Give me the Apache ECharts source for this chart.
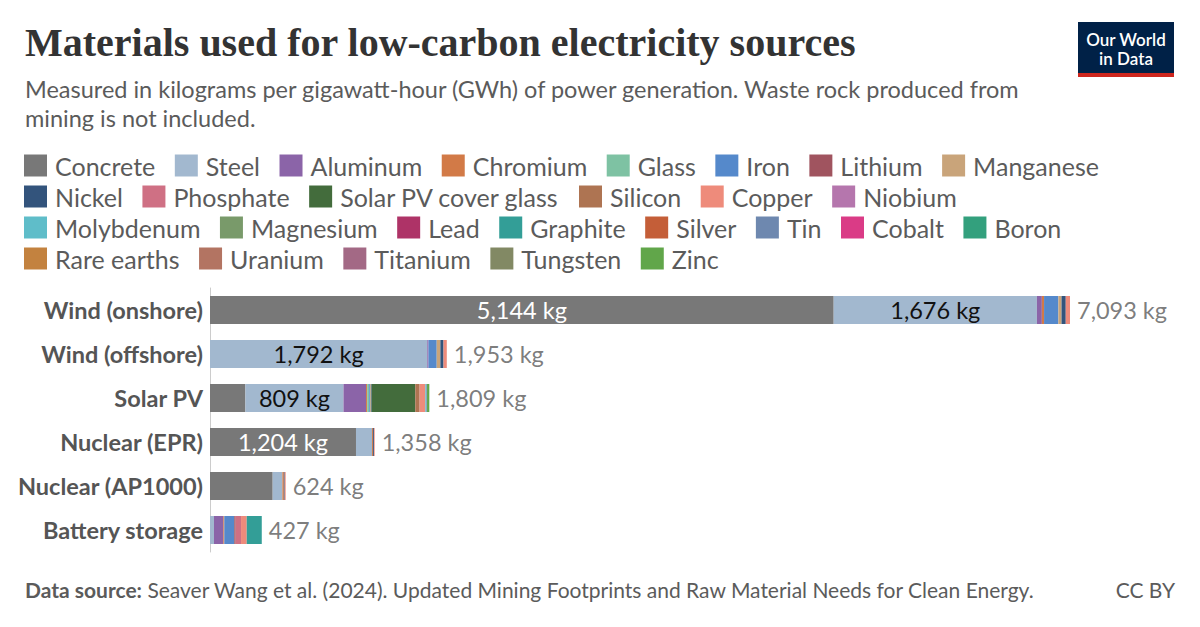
<!DOCTYPE html>
<html>
<head>
<meta charset="utf-8">
<script src="https://cdn.jsdelivr.net/npm/echarts@6/dist/echarts.min.js"></script>
<style>
html,body{margin:0;padding:0;background:#fff;}
#chart{width:1200px;height:627px;}
</style>
</head>
<body>
<div id="chart"></div>
<script>
// ---------- DATA ----------
const categories = ["Wind (onshore)", "Wind (offshore)", "Solar PV", "Nuclear (EPR)", "Nuclear (AP1000)", "Battery storage"];

const materials = ["Concrete","Steel","Aluminum","Chromium","Glass","Iron","Lithium","Manganese",
  "Nickel","Phosphate","Solar PV cover glass","Silicon","Copper","Niobium",
  "Molybdenum","Magnesium","Lead","Graphite","Silver","Tin","Cobalt","Boron",
  "Rare earths","Uranium","Titanium","Tungsten","Zinc"];

// kg per GWh, in category order
const concrete    = [5144,    0,  292, 1204, 517,   0];
const steel       = [1676, 1792,  809,  132,  80,  33];
const aluminum    = [  41,   10,  186,    0,   0,  77];
const chromium    = [  18,    0,   10,    8,  12,   8];
const glass       = [   0,    0,   16,    0,   0,   0];
const iron        = [ 118,   68,    8,    0,   0,  82];
const lithium     = [   0,    0,    0,    0,   0,  12];
const manganese   = [  26,   30,    6,    0,   0,   0];
const nickel      = [  35,   26,    6,    8,   7,   0];
const phosphate   = [   0,    0,    0,    0,   0,  44];
const coverGlass  = [   0,    0,  360,    0,   0,   0];
const silicon     = [   0,    0,   36,    0,   0,   0];
const copper      = [  35,   27,   47,    6,   8,  47];
const niobium     = [   0,    0,    0,    0,   0,   0];
const molybdenum  = [   0,    0,    8,    0,   0,   0];
const magnesium   = [   0,    0,    0,    0,   0,   0];
const lead        = [   0,    0,    0,    0,   0,   0];
const graphite    = [   0,    0,    0,    0,   0, 124];
const silver      = [   0,    0,    0,    0,   0,   0];
const tin         = [   0,    0,    6,    0,   0,   0];
const cobalt      = [   0,    0,    0,    0,   0,   0];
const boron       = [   0,    0,    0,    0,   0,   0];
const rareEarths  = [   0,    0,    0,    0,   0,   0];
const uranium     = [   0,    0,    0,    0,   0,   0];
const titanium    = [   0,    0,    0,    0,   0,   0];
const tungsten    = [   0,    0,    0,    0,   0,   0];
const zinc        = [   0,    0,   19,    0,   0,   0];

const values = [concrete, steel, aluminum, chromium, glass, iron, lithium, manganese,
  nickel, phosphate, coverGlass, silicon, copper, niobium, molybdenum, magnesium, lead,
  graphite, silver, tin, cobalt, boron, rareEarths, uranium, titanium, tungsten, zinc];

const legendRows = [
  ["Concrete","Steel","Aluminum","Chromium","Glass","Iron","Lithium","Manganese"],
  ["Nickel","Phosphate","Solar PV cover glass","Silicon","Copper","Niobium"],
  ["Molybdenum","Magnesium","Lead","Graphite","Silver","Tin","Cobalt","Boron"],
  ["Rare earths","Uranium","Titanium","Tungsten","Zinc"]
];

// ---------- STYLE ----------
const colors = ["#787878","#a2b8cf","#8b64a8","#d27a47","#7ec2a3","#5589cb","#a0545f","#c9a47a",
  "#33547c","#cf7084","#436c3c","#ae7452","#ee8b7b","#b576ad",
  "#5fbdc9","#799a6a","#ae3367","#339e97","#c45e38","#6e88af","#da3b86","#33a07d",
  "#c3823f","#b37462","#a36985","#828964","#61a64a"];

// which segments carry an inside label
const insideLabels = { "Concrete": {idx:[0,3], color:"#ffffff"}, "Steel": {idx:[0,1,2], color:"#111111"} };

const totals = categories.map((c, i) => values.reduce((s, arr) => s + arr[i], 0));
const fmt = v => v.toLocaleString('en-US') + ' kg';

const TXT = "#5b5b5b";
const FONT = "Lato";

const series = materials.map((m, k) => {
  const lab = insideLabels[m];
  return {
    name: m,
    type: 'bar',
    stack: 'total',
    barWidth: 28,
    itemStyle: { color: colors[k] },
    emphasis: { disabled: true },
    data: values[k].map((v, i) => {
      const item = { value: v };
      if (lab && lab.idx.includes(i)) {
        item.label = { show: true, position: 'inside', color: lab.color,
          fontFamily: FONT, fontSize: 23.5, formatter: p => fmt(p.value) };
      }
      return item;
    })
  };
});

series.push({
  name: 'totals',
  type: 'scatter',
  symbolSize: 0,
  silent: true,
  z: 10,
  data: totals.map((t, i) => [t, categories[i]]),
  label: { show: true, position: 'right', distance: 7, color: TXT, fontFamily: FONT, fontSize: 23.5,
    formatter: p => fmt(p.value[0]) }
});

const legendTops = [153, 184, 215, 246];
const legends = legendRows.map((row, r) => ({
  data: row,
  left: 24,
  top: legendTops[r],
  orient: 'horizontal',
  padding: 0,
  icon: 'rect',
  itemWidth: 23,
  itemHeight: 22,
  itemGap: 19.5,
  selectedMode: false,
  textStyle: { color: TXT, fontFamily: FONT, fontSize: 25, padding: [0, 0, 0, 3] }
}));

const chart = echarts.init(document.getElementById('chart'), null, { renderer: 'svg' });
chart.setOption({
  animation: false,
  backgroundColor: '#ffffff',
  color: colors,
  legend: legends,
  grid: { left: 210, top: 288, width: 860, height: 264, containLabel: false },
  xAxis: { type: 'value', min: 0, max: 7093, show: false },
  yAxis: {
    type: 'category',
    data: categories,
    inverse: true,
    axisTick: { show: false },
    axisLine: { show: true, lineStyle: { color: '#cccccc', width: 1 } },
    axisLabel: { color: '#555555', fontFamily: FONT, fontWeight: 'bold', fontSize: 23.5, margin: 7 }
  },
  series: series,
  graphic: [
    { type: 'text', left: 25, top: 22,
      style: { text: 'Materials used for low-carbon electricity sources', fill: '#333333',
        font: 'bold 40px "Liberation Serif", serif' } },
    { type: 'text', left: 25, top: 74,
      style: { text: 'Measured in kilograms per gigawatt-hour (GWh) of power generation. Waste rock produced from\nmining is not included.',
        fill: TXT, fontFamily: FONT, fontSize: 23.5, lineHeight: 29 } },
    { type: 'rect', shape: { x: 1078, y: 22, width: 96, height: 55 }, style: { fill: '#002147' } },
    { type: 'rect', shape: { x: 1078, y: 73, width: 96, height: 4 }, style: { fill: '#ce261e' } },
    { type: 'text', x: 1126, y: 49,
      style: { text: 'Our World\nin Data', fill: '#ffffff', font: '600 17px Lato', lineHeight: 19,
        align: 'center', verticalAlign: 'middle' } },
    { type: 'text', left: 25, top: 579,
      style: { text: '{b|Data source:} Seaver Wang et al. (2024). Updated Mining Footprints and Raw Material Needs for Clean Energy.',
        fill: TXT, fontFamily: FONT, fontSize: 21,
        rich: { b: { fontWeight: 'bold', fill: TXT, fontFamily: FONT, fontSize: 21 } } } },
    { type: 'text', right: 25, top: 579,
      style: { text: 'CC BY', fill: TXT, fontFamily: FONT, fontSize: 21 } }
  ]
});
</script>
</body>
</html>
